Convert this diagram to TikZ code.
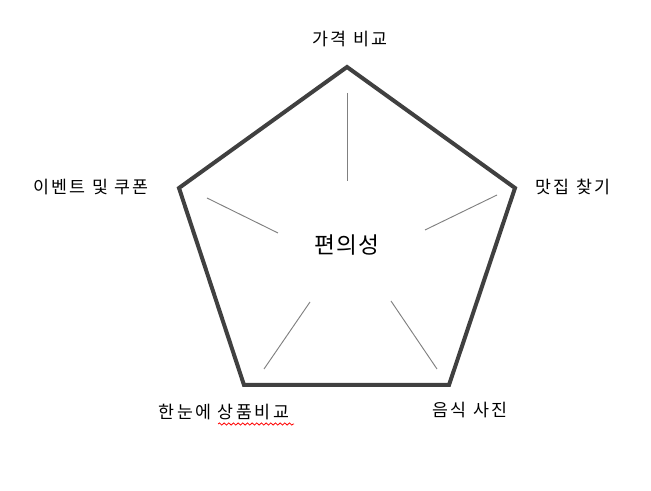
\documentclass[tikz,border=0pt]{standalone}
\usepackage{fontspec}
\setmainfont{Noto Sans CJK KR}
\usetikzlibrary{decorations.pathmorphing}

\tikzset{
  rim/.style={line width=3pt, draw=black!75, line join=miter},
  spoke/.style={line width=0.7pt, draw=black!50},
  corner/.style={font=\fontsize{13}{15}\selectfont\addfontfeature{LetterSpace=14},
    inner sep=0pt},
}

\begin{document}
\begin{tikzpicture}[x=0.75pt,y=-0.75pt]
  \useasboundingbox (0,0) rectangle (651,491);
  % pentagon
  \coordinate (top) at (347,67);
  \coordinate (rgt) at (515,188);
  \coordinate (br)  at (449,385);
  \coordinate (bl)  at (244,385);
  \coordinate (lft) at (179,188);
  \draw[rim] (top) -- (rgt) -- (br) -- (bl) -- (lft) -- cycle;
  % spokes
  \draw[spoke] (347,93)  -- (347,181);
  \draw[spoke] (497,195) -- (425,230);
  \draw[spoke] (437,369) -- (391,301);
  \draw[spoke] (264,369) -- (310,302);
  \draw[spoke] (207,198) -- (278,233);
  % labels
  \node[font=\fontsize{17}{20}\selectfont\addfontfeature{LetterSpace=6}]
    (mid) at (347,245) {편의성};
  \node[corner] (price) at (350,39)  {가격 비교};
  \node[corner] (food)  at (573,187) {맛집 찾기};
  \node[corner] (event) at (91,187)  {이벤트 및 쿠폰};
  \node[corner] (glance) at (224,412) {한눈에 상품비교};
  \node[corner] (photo) at (470,410) {음식 사진};
  \draw[red, line width=0.6pt, decorate,
        decoration={snake, amplitude=0.8, segment length=3.5}]
    (218,424) -- (294,424);
\end{tikzpicture}
\end{document}
